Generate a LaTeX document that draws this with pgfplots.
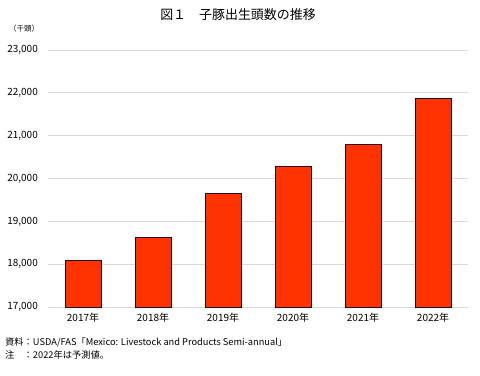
\documentclass[border=0pt]{standalone}
\usepackage{fontspec}
\setmainfont{Noto Sans CJK JP}
\usepackage{pgfplots}
\pgfplotsset{compat=1.18}
\definecolor{barred}{HTML}{FF3300}
\definecolor{barline}{HTML}{330000}
\definecolor{gridgray}{HTML}{D9D9D9}
\begin{document}
\begin{tikzpicture}[x=1bp,y=1bp]
\path[use as bounding box] (0,0) rectangle (480,375);
\begin{axis}[
  at={(48bp,68bp)}, anchor=south west,
  scale only axis, width=420bp, height=257bp,
  xmin=-0.5, xmax=5.5, ymin=17000, ymax=23000,
  ytick={17000,18000,...,23000},
  scaled y ticks=false,
  xtick={0,...,5},
  xticklabels={2017年,2018年,2019年,2020年,2021年,2022年},
  axis line style={draw=none},
  tick style={draw=none},
  ymajorgrids, grid style={gridgray, line width=0.8bp},
  yticklabel style={anchor=east, inner sep=0pt, xshift=-10bp, font=\fontsize{10}{10}\selectfont,
    /pgf/number format/.cd, fixed, 1000 sep={,}, assume math mode=true},
  xticklabel style={anchor=north, inner sep=0pt, yshift=-6bp, font=\fontsize{10}{10}\selectfont},
  clip=false,
]
\addplot[ybar, bar width=0.514, fill=barred, draw=barline, line width=0.8bp]
  coordinates {(0,18090) (1,18630) (2,19650) (3,20280) (4,20805) (5,21860)};
\end{axis}
\node[font=\fontsize{13}{14}\selectfont] at (238,360) {図１　子豚出生頭数の推移};
\node[font=\fontsize{7.5}{8}\selectfont, anchor=west, inner sep=0pt] at (9,346) {（千頭）};
\node[font=\fontsize{9.3}{10}\selectfont, anchor=west, inner sep=0pt] at (5,33) {資料：USDA/FAS「Mexico: Livestock and Products Semi-annual」};
\node[font=\fontsize{9.3}{10}\selectfont, anchor=west, inner sep=0pt] at (5,20) {注　：2022年は予測値。};
\end{tikzpicture}
\end{document}
